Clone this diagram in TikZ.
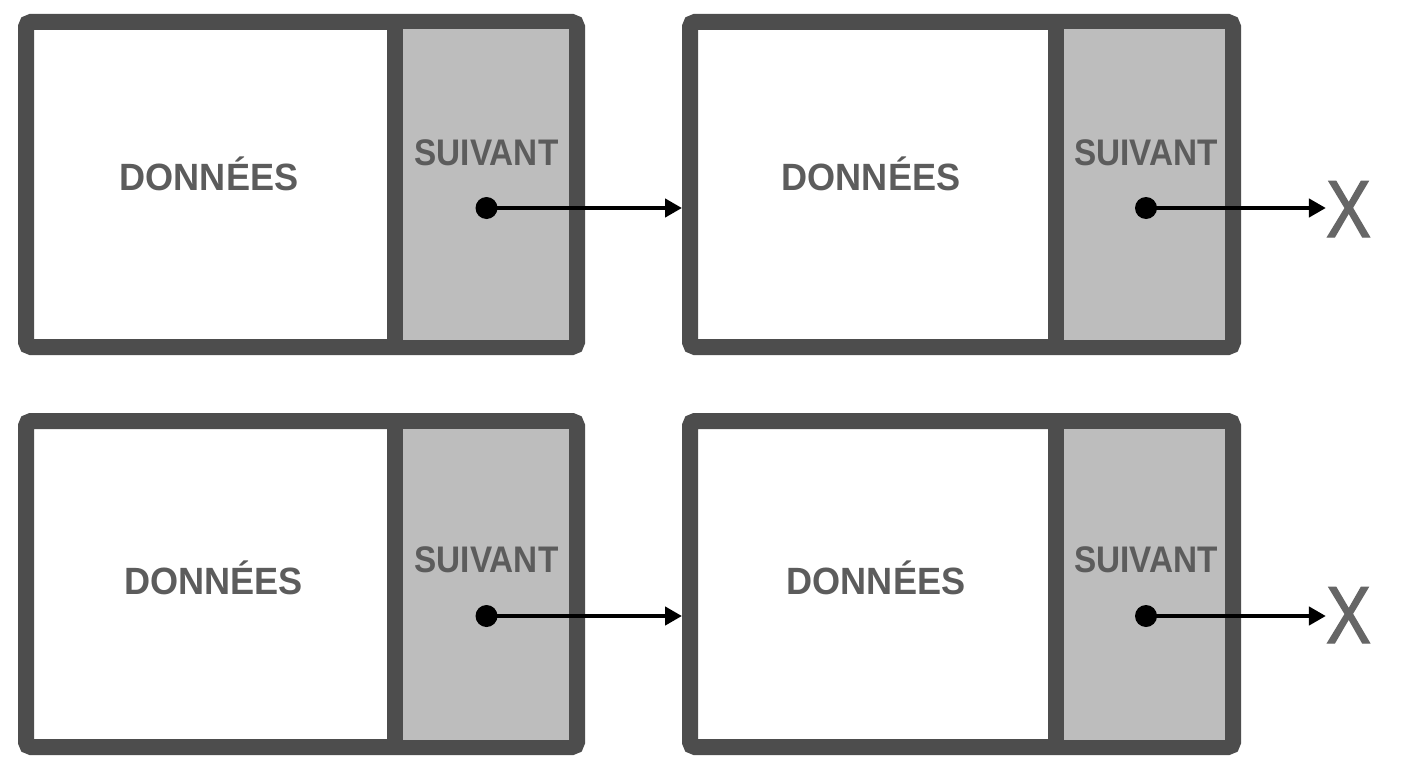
\documentclass[tikz,border=0pt]{standalone}
\usepackage{fontspec}
\usetikzlibrary{arrows.meta}
\newfontfamily\donfont[FakeStretch=0.95]{Liberation Sans}
\newfontfamily\suifont[FakeStretch=0.9]{Liberation Sans}
\newfontfamily\nilfont[FakeStretch=0.83,FakeBold=1.6]{Liberation Sans}
\definecolor{frame}{HTML}{4D4D4D}
\definecolor{cellgray}{HTML}{BDBDBD}
\definecolor{labgray}{HTML}{5C5C5C}
\definecolor{nilgray}{HTML}{666666}
\tikzset{
  nodebox/.style={draw=frame, fill=white, line width=16pt, rounded corners=5pt, inner sep=0pt, outer sep=8pt, rectangle},
  nextcell/.style={fill=cellgray, draw=none, inner sep=0pt, outer sep=0pt, rectangle},
  divider/.style={draw=frame, line width=16pt},
  datalab/.style={font=\donfont\bfseries\fontsize{38}{38}\selectfont, text=labgray, inner sep=0pt, anchor=base},
  nextlab/.style={font=\suifont\bfseries\fontsize{37}{37}\selectfont, text=labgray, inner sep=0pt, anchor=base},
  nillab/.style={font=\nilfont\fontsize{81}{81}\selectfont, text=nilgray, inner sep=0pt, anchor=base},
  ptr/.style={circle, fill=black, inner sep=0pt, minimum size=22pt},
  arr/.style={draw=black, line width=4.5pt, -{Triangle[length=17pt,width=18pt]}}
}
\begin{document}
\begin{tikzpicture}[x=1pt,y=-1pt]
\useasboundingbox (0,0) rectangle (1408,768);
\fill[white] (0,0) rectangle (1408,768);
% row 1
\node[nodebox, minimum width=551pt, minimum height=325pt] (b1) at (301.5,184.5) {};
\node[nextcell, minimum width=166pt, minimum height=310pt] (g1) at (486,184.5) {};
\draw[divider] (395,22) -- (395,347);
\node[nodebox, minimum width=543pt, minimum height=325pt] (b2) at (961.5,184.5) {};
\node[nextcell, minimum width=162pt, minimum height=310pt] (g2) at (1144,184.5) {};
\draw[divider] (1055.5,22) -- (1055.5,347);
% row 2
\node[nodebox, minimum width=551pt, minimum height=326pt] (b3) at (301.5,584) {};
\node[nextcell, minimum width=166pt, minimum height=311pt] (g3) at (486,584.5) {};
\draw[divider] (395,421) -- (395,747);
\node[nodebox, minimum width=543pt, minimum height=326pt] (b4) at (961.5,584) {};
\node[nextcell, minimum width=162pt, minimum height=311pt] (g4) at (1144,584.5) {};
\draw[divider] (1055.5,421) -- (1055.5,747);
% labels
\node[datalab] (t1) at (209,190.5) {DONNÉES};
\node[nextlab] (s1) at (486.5,165) {SUIVANT};
\node[datalab] (t2) at (871,190.5) {DONNÉES};
\node[nextlab] (s2) at (1146,165) {SUIVANT};
\node[datalab] (t3) at (213.5,594) {DONNÉES};
\node[nextlab] (s3) at (486.5,572) {SUIVANT};
\node[datalab] (t4) at (876,594) {DONNÉES};
\node[nextlab] (s4) at (1146,572) {SUIVANT};
\node[nillab] (x1) at (1348.5,237) {X};
\node[nillab] (x2) at (1348.5,643) {X};
% pointers
\node[ptr] (d1) at (486.5,208) {};
\node[ptr] (d2) at (1146,208) {};
\node[ptr] (d3) at (486.5,616) {};
\node[ptr] (d4) at (1146,616) {};
\draw[arr] (d1.center) -- (d1.center -| b2.west);
\draw[arr] (d2.center) -- (d2.center -| x1.west);
\draw[arr] (d3.center) -- (d3.center -| b4.west);
\draw[arr] (d4.center) -- (d4.center -| x2.west);
\end{tikzpicture}
\end{document}
